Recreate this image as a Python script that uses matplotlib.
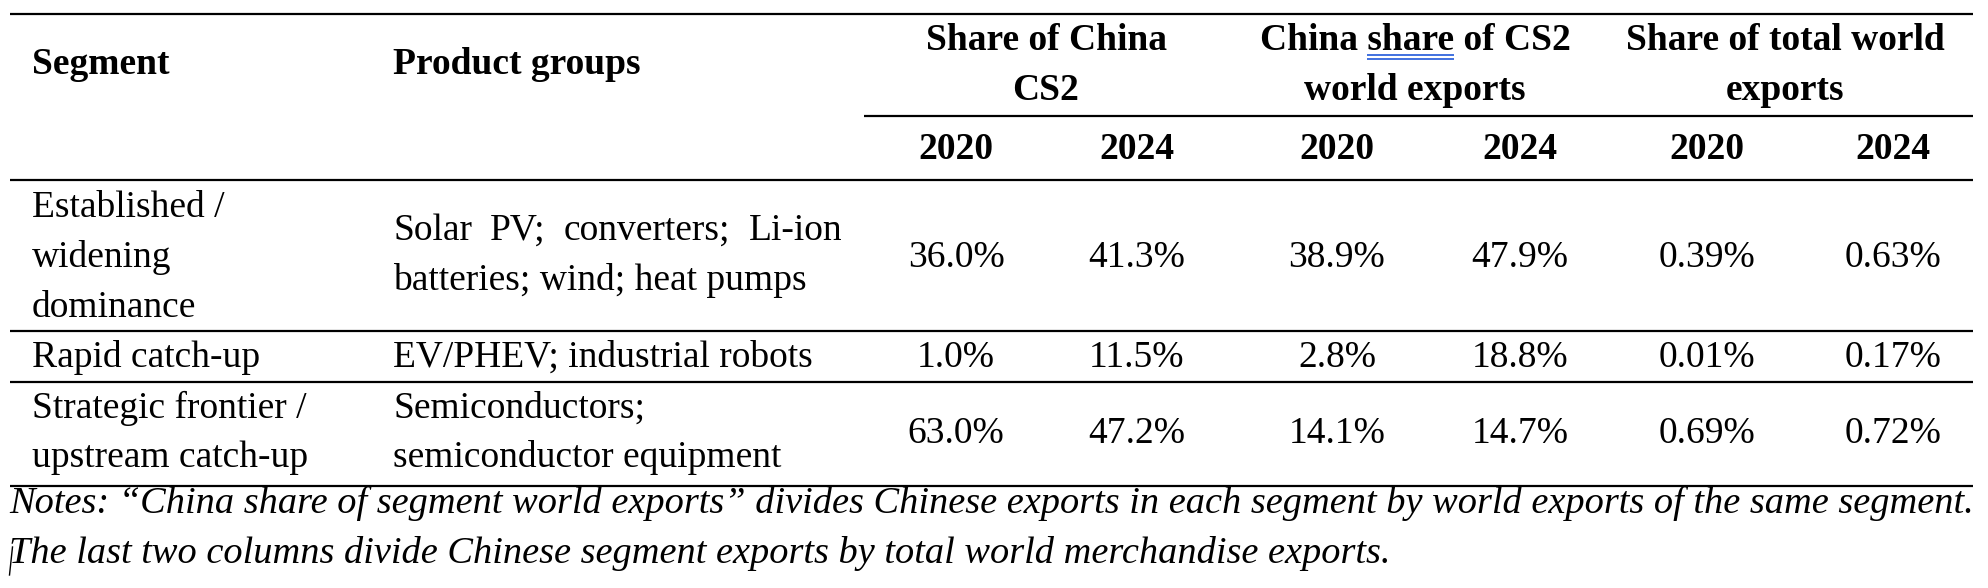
import matplotlib
matplotlib.use("Agg")
import matplotlib.pyplot as plt

# ---------------- data ----------------
segments = [["Established /", "widening", "dominance"],
            ["Rapid catch-up"],
            ["Strategic frontier /", "upstream catch-up"]]
products = [["Solar PV; converters; Li-ion", "batteries; wind; heat pumps"],
            ["EV/PHEV; industrial robots"],
            ["Semiconductors;", "semiconductor equipment"]]
share_cs2_2020 = [36.0, 1.0, 63.0]
share_cs2_2024 = [41.3, 11.5, 47.2]
world_cs2_2020 = [38.9, 2.8, 14.1]
world_cs2_2024 = [47.9, 18.8, 14.7]
total_world_2020 = [0.39, 0.01, 0.69]
total_world_2024 = [0.63, 0.17, 0.72]
years = ["2020", "2024"]
group_headers = [["Share of China", "CS2"],
                 ["China share of CS2", "world exports"],
                 ["Share of total world", "exports"]]
col_headers = ["Segment", "Product groups"]
notes = ["Notes: \u201cChina share of segment world exports\u201d divides Chinese exports in each segment by world exports of the same segment.",
         "The last two columns divide Chinese segment exports by total world merchandise exports."]

# ---------------- layout ----------------
W, H = 1988, 588
fig = plt.figure(figsize=(W / 100, H / 100), dpi=100)
ax = fig.add_axes([0, 0, 1, 1])
ax.set_xlim(0, W)
ax.set_ylim(H, 0)
ax.axis("off")
renderer = fig.canvas.get_renderer()

FONT = "Liberation Serif"
FS = 27
LW = 1.6

def width(s, **kw):
    t = ax.text(0, 0, s, fontfamily=FONT, fontsize=kw.get("fontsize", FS),
                fontweight=kw.get("fontweight", "normal"),
                fontstyle=kw.get("fontstyle", "normal"))
    w = t.get_window_extent(renderer).width
    t.remove()
    return w

def txt(x, y, s, ha="left", **kw):
    ax.text(x, y, s, ha=ha, va="baseline", fontfamily=FONT,
            fontsize=kw.pop("fontsize", FS), color="black", **kw)

def justify(s, x0, x1, y):
    words = s.split(" ")
    ws = [width(w) for w in words]
    gap = (x1 - x0 - sum(ws)) / (len(words) - 1)
    x = x0
    for w, wd in zip(words, ws):
        txt(x, y, w)
        x += wd + gap

XL, XR = 10, 1973
rules = [(14, XL), (116, 864), (180, XL), (331, XL), (382, XL), (486, XL)]
for y, x0 in rules:
    ax.plot([x0, XR], [y, y], color="black", lw=LW, solid_capstyle="butt")

# header
txt(32, 74, col_headers[0], fontweight="bold")
txt(393, 74, col_headers[1], fontweight="bold")
group_cx = [1046, 1415, 1785]
for cx, (l1, l2) in zip(group_cx, group_headers):
    txt(cx, 50, l1, ha="center", fontweight="bold")
    txt(cx, 100, l2, ha="center", fontweight="bold")

# spell-check style double underline under "share"
l1 = group_headers[1][0]
wfull = width(l1, fontweight="bold")
left = group_cx[1] - wfull / 2
start = left + width("China share", fontweight="bold") - width("share", fontweight="bold")
end = left + width("China share", fontweight="bold")
for yy in (54.5, 58.5):
    ax.plot([start, end], [yy, yy], color="#3264dc", lw=1.3, solid_capstyle="butt")

col_cx = [956, 1137, 1337, 1520, 1707, 1893]
for i, cx in enumerate(col_cx):
    txt(cx, 159, years[i % 2], ha="center", fontweight="bold")

# body
seg_base = [[217, 267, 317], [367], [418, 467]]
prod_base = [[240, 290], [367], [418, 467]]
val_base = [267, 367, 443]
for r in range(3):
    for line, y in zip(segments[r], seg_base[r]):
        txt(32, y, line)
    for line, y in zip(products[r], prod_base[r]):
        if r == 0 and y == 240:
            justify(line, 393, 842, y)
        else:
            txt(393, y, line)
    vals = [f"{share_cs2_2020[r]:.1f}%", f"{share_cs2_2024[r]:.1f}%",
            f"{world_cs2_2020[r]:.1f}%", f"{world_cs2_2024[r]:.1f}%",
            f"{total_world_2020[r]:.2f}%", f"{total_world_2024[r]:.2f}%"]
    for cx, v in zip(col_cx, vals):
        txt(cx, val_base[r], v, ha="center")

# notes (italic), sized to span the table width
nat = width(notes[0], fontstyle="italic")
nfs = FS * (1962 / nat)
txt(9, 513, notes[0], fontstyle="italic", fontsize=nfs)
txt(9, 563, notes[1], fontstyle="italic", fontsize=nfs)
# text-cursor mark at start of second note line
ax.plot([12.5, 9.5], [547, 575], color="black", lw=1.0)

fig.savefig("out.png", dpi=100, facecolor="white")
